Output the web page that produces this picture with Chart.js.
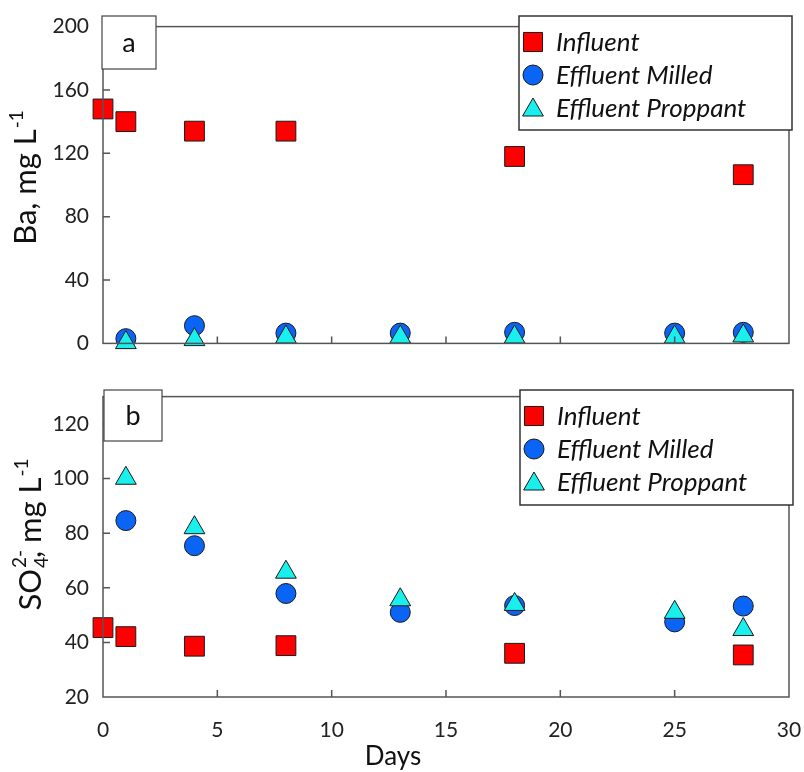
<!DOCTYPE html>
<html>
<head>
<meta charset="utf-8">
<script src="https://cdn.jsdelivr.net/npm/chart.js@4/dist/chart.umd.min.js"></script>
<style>
  html, body { margin: 0; padding: 0; background: #fff; }
  .wrap { position: absolute; left: 0; width: 804px; }
  #top { top: 0; height: 370px; }
  #bot { top: 370px; height: 402px; }
</style>
</head>
<body>
<div class="wrap" id="top"><canvas id="baChart"></canvas></div>
<div class="wrap" id="bot"><canvas id="so4Chart"></canvas></div>
<script>
// sampling days
const influentDays = [0, 1, 4, 8, 18, 28];
const effluentDays = [1, 4, 8, 13, 18, 25, 28];

// (a) Ba, mg/L
const baInfluent = [148, 140, 134, 134, 118, 106.5];
const baMilled = [3, 11.2, 6.5, 6.5, 7, 6.5, 7];
const baProppant = [0.5, 2.4, 4, 4, 4, 4, 4.7];

// (b) SO4 2-, mg/L
const soInfluent = [45.4, 42.1, 38.6, 38.8, 36, 35.4];
const soMilled = [84.6, 75.4, 57.9, 51, 53.5, 47.5, 53.3];
const soProppant = [100.1, 82, 65.7, 55.6, 53.9, 51, 44.7];

const xTicks = [0, 5, 10, 15, 20, 25, 30];
const baTicks = [0, 40, 80, 120, 160, 200];
const soTicks = [20, 40, 60, 80, 100, 120];

const seriesNames = ['Influent', 'Effluent Milled', 'Effluent Proppant'];
const FONT = 'Lato, "Open Sans", sans-serif';
const AXIS = '#555';

const styles = [
  { pointStyle: 'rect', pointRadius: 14, backgroundColor: '#ff0000', order: 2 },
  { pointStyle: 'circle', pointRadius: 10, backgroundColor: '#0a64f5', order: 1 },
  { pointStyle: 'triangle', pointRadius: 12, backgroundColor: '#19f0ee', order: 0 }
];

function pts(xs, ys) { return xs.map((x, i) => ({ x: x, y: ys[i] })); }

function makeDatasets(inf, mil, prop) {
  const sets = [pts(influentDays, inf), pts(effluentDays, mil), pts(effluentDays, prop)];
  return sets.map((d, i) => Object.assign({
    label: seriesNames[i],
    data: d,
    borderColor: '#1a1a1a',
    borderWidth: 1,
    pointHoverRadius: styles[i].pointRadius,
    clip: false
  }, styles[i]));
}

function drawMarker(ctx, style, x, y, r, fill) {
  ctx.save();
  ctx.fillStyle = fill;
  ctx.strokeStyle = '#1a1a1a';
  ctx.lineWidth = 1;
  ctx.beginPath();
  if (style === 'rect') {
    const s = r * Math.SQRT1_2;
    ctx.rect(x - s, y - s, 2 * s, 2 * s);
  } else if (style === 'circle') {
    ctx.arc(x, y, r, 0, Math.PI * 2);
  } else {
    ctx.moveTo(x, y - r);
    ctx.lineTo(x + r * 0.866, y + r / 2);
    ctx.lineTo(x - r * 0.866, y + r / 2);
    ctx.closePath();
  }
  ctx.fill();
  ctx.stroke();
  ctx.restore();
}

// frame, inward ticks, panel letter, boxed legend and axis titles
const panelDecor = {
  id: 'panelDecor',
  afterDatasetsDraw(chart, args, opts) {
    const ctx = chart.ctx;
    const a = chart.chartArea;
    const xs = chart.scales.x, ys = chart.scales.y;
    ctx.save();
    ctx.strokeStyle = AXIS;
    ctx.lineWidth = 1.5;
    ctx.strokeRect(a.left, a.top, a.right - a.left, a.bottom - a.top);
    ctx.beginPath();
    xTicks.forEach(v => {
      if (v <= xs.min || v >= xs.max) return;
      const px = xs.getPixelForValue(v);
      ctx.moveTo(px, a.bottom);
      ctx.lineTo(px, a.bottom - 7);
    });
    opts.yTicks.forEach(v => {
      if (v <= ys.min || v >= ys.max) return;
      const py = ys.getPixelForValue(v);
      ctx.moveTo(a.left, py);
      ctx.lineTo(a.left + 7, py);
    });
    ctx.stroke();

    // panel letter box
    const lb = opts.letterBox;
    ctx.fillStyle = '#fff';
    ctx.fillRect(lb.x, lb.y, lb.w, lb.h);
    ctx.strokeStyle = '#444';
    ctx.lineWidth = 1.2;
    ctx.strokeRect(lb.x, lb.y, lb.w, lb.h);
    ctx.fillStyle = '#111';
    ctx.font = '27px ' + FONT;
    ctx.textAlign = 'center';
    ctx.textBaseline = 'middle';
    ctx.fillText(opts.letter, lb.x + lb.w / 2, lb.y + lb.h / 2 + 1);

    // legend box
    const lg = opts.legendBox;
    ctx.fillStyle = '#fff';
    ctx.fillRect(lg.x, lg.y, lg.w, lg.h);
    ctx.strokeStyle = '#333';
    ctx.lineWidth = 1.5;
    ctx.strokeRect(lg.x, lg.y, lg.w, lg.h);
    ctx.font = 'italic 26px ' + FONT;
    ctx.textAlign = 'left';
    chart.data.datasets.forEach((ds, i) => {
      const cy = lg.y + 26 + i * 33;
      const r = ds.pointStyle === 'rect' ? 13.5 : (ds.pointStyle === 'circle' ? 10 : 12);
      drawMarker(ctx, ds.pointStyle, lg.x + 14, cy + (ds.pointStyle === 'triangle' ? 2 : 0), r, ds.backgroundColor);
      ctx.fillStyle = '#111';
      ctx.fillText(ds.label, lg.x + 37, cy + 1);
    });

    // x title
    if (opts.xTitle) {
      ctx.font = '26px ' + FONT;
      ctx.textAlign = 'center';
      ctx.textBaseline = 'middle';
      ctx.fillStyle = '#111';
      ctx.fillText(opts.xTitle.text, opts.xTitle.x, opts.xTitle.y);
    }

    // y title with sub/superscripts
    const t = opts.yTitle;
    ctx.translate(t.x, t.cy);
    ctx.rotate(-Math.PI / 2);
    ctx.fillStyle = '#111';
    ctx.textAlign = 'left';
    ctx.textBaseline = 'alphabetic';
    let total = 0;
    t.parts.forEach(p => {
      ctx.font = (p.small ? '19px ' : '31px ') + FONT;
      p.w = ctx.measureText(p.text).width;
      total += p.adv === false ? 0 : p.w;
    });
    let cx = -total / 2;
    t.parts.forEach(p => {
      ctx.font = (p.small ? '19px ' : '31px ') + FONT;
      ctx.fillText(p.text, cx + (p.dx || 0), p.dy || 0);
      if (p.adv !== false) cx += p.w;
    });
    ctx.restore();
  }
};

function baseOptions(yMin, yMax, yStep, showX, xHeight, padTop) {
  return {
    responsive: true,
    maintainAspectRatio: false,
    animation: false,
    layout: { padding: { top: padTop, right: 11, left: 0, bottom: 0 } },
    plugins: { legend: { display: false }, tooltip: { enabled: false } },
    scales: {
      x: {
        type: 'linear',
        min: 0, max: 30,
        grid: { display: false, drawTicks: false },
        border: { display: false },
        afterFit: s => { s.height = xHeight; s.paddingLeft = 0; s.paddingRight = 0; },
        ticks: {
          display: showX,
          stepSize: 5,
          padding: 21,
          color: '#222',
          font: { family: FONT, size: 21 }
        }
      },
      y: {
        min: yMin, max: yMax,
        grid: { display: false, drawTicks: false },
        border: { display: false },
        afterFit: s => { s.width = 103; },
        afterBuildTicks: s => { s.ticks = s.ticks.filter(t => (t.value - yMin) % yStep === 0); },
        ticks: {
          stepSize: yStep,
          padding: 14,
          color: '#222',
          font: { family: FONT, size: 21 }
        }
      }
    }
  };
}

const baOpts = baseOptions(0, 200, 40, false, 16, 16);
baOpts.plugins.panelDecor = {
  letter: 'a',
  letterBox: { x: 102, y: 16, w: 54, h: 53 },
  legendBox: { x: 519, y: 16, w: 273, h: 114 },
  yTicks: baTicks,
  yTitle: { x: 36, cy: 178, parts: [
    { text: 'Ba, mg L' },
    { text: '-1', small: true, dy: -13, dx: 1 }
  ] }
};

const soOpts = baseOptions(20, 130, 20, true, 75, 20);
soOpts.plugins.panelDecor = {
  letter: 'b',
  letterBox: { x: 104, y: 20, w: 58, h: 51 },
  legendBox: { x: 520, y: 20, w: 273, h: 115 },
  yTicks: soTicks,
  xTitle: { text: 'Days', x: 393, y: 387 },
  yTitle: { x: 41, cy: 165, parts: [
    { text: 'SO' },
    { text: '2-', small: true, dy: -15, dx: 1, adv: false },
    { text: '4', small: true, dy: 7, dx: 1 },
    { text: ', mg L' },
    { text: '-1', small: true, dy: -13, dx: 1 }
  ] }
};

new Chart(document.getElementById('baChart').getContext('2d'), {
  type: 'scatter',
  data: { datasets: makeDatasets(baInfluent, baMilled, baProppant) },
  options: baOpts,
  plugins: [panelDecor]
});

new Chart(document.getElementById('so4Chart').getContext('2d'), {
  type: 'scatter',
  data: { datasets: makeDatasets(soInfluent, soMilled, soProppant) },
  options: soOpts,
  plugins: [panelDecor]
});
</script>
</body>
</html>
